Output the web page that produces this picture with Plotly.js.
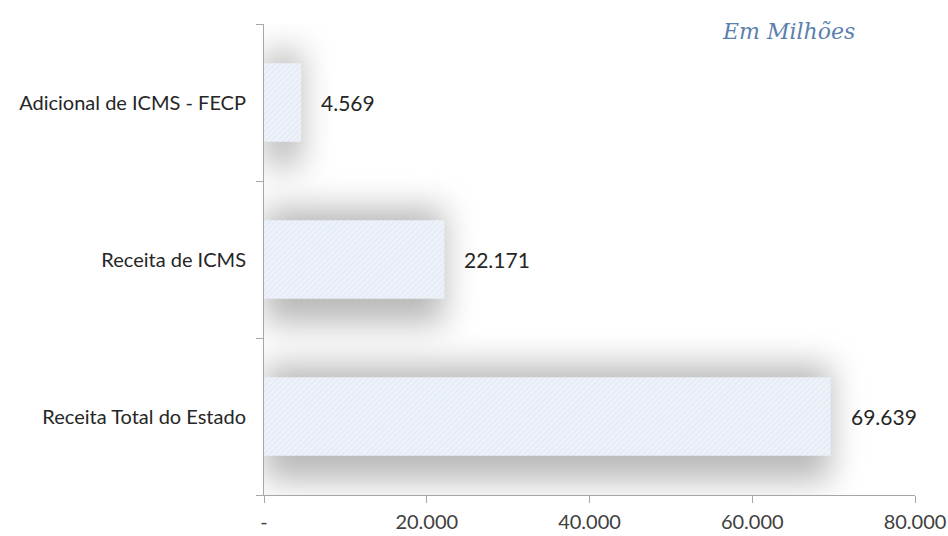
<!DOCTYPE html>
<html>
<head>
<meta charset="utf-8">
<script src="https://cdn.plot.ly/plotly-3.0.1.min.js"></script>
<style>html,body{margin:0;padding:0;background:#fff;}#chart{width:948px;height:536px;}</style>
</head>
<body>
<div id="chart"></div>
<script>
// Data (bottom to top)
const categories = ['Receita Total do Estado', 'Receita de ICMS', 'Adicional de ICMS - FECP'];
const values = [69639, 22171, 4569];
const valueLabels = ['69.639', '22.171', '4.569'];
const xTickVals = [0, 20000, 40000, 60000, 80000];
const xTickText = ['-', '20.000', '40.000', '60.000', '80.000'];
const unitNote = 'Em Milhões';

const fontFam = 'Lato, "Open Sans", sans-serif';

const shadow = {
  type: 'bar', orientation: 'h', x: values, y: categories,
  width: 0.74, offset: -0.41,
  marker: {color: '#808080', line: {width: 0}},
  opacity: 0.55, hoverinfo: 'skip', showlegend: false, name: 'shadow'
};
const bars = {
  type: 'bar', orientation: 'h', x: values, y: categories,
  width: 0.5,
  marker: {
    color: '#e9eff8',
    line: {width: 0},
    pattern: {shape: '/', fgcolor: '#d9e1ec', bgcolor: '#edf2fa', size: 4, solidity: 0.2}
  },
  hoverinfo: 'skip', showlegend: false, name: 'valores'
};

const annotations = categories.map((c, i) => ({
  x: values[i], y: c, xref: 'x', yref: 'y', text: valueLabels[i],
  showarrow: false, xanchor: 'left', yanchor: 'middle', xshift: 18,
  font: {family: fontFam, size: 21, color: '#262626'}
}));
annotations.push({
  xref: 'paper', yref: 'paper', x: 0.805, y: 0.985, text: unitNote,
  showarrow: false, xanchor: 'center', yanchor: 'middle',
  font: {family: '"DejaVu Serif", serif', size: 22, color: '#5b7fae', style: 'italic'}
});

const layout = {
  width: 948, height: 536,
  margin: {l: 264, r: 33, t: 24, b: 41},
  paper_bgcolor: '#ffffff', plot_bgcolor: 'rgba(0,0,0,0)',
  barmode: 'overlay',
  showlegend: false,
  xaxis: {
    range: [0, 80000], tickvals: xTickVals, ticktext: xTickText,
    showgrid: false, zeroline: false, showline: true, linecolor: '#a6a6a6', linewidth: 1,
    ticks: 'outside', ticklen: 7, tickcolor: '#a6a6a6', ticklabelstandoff: 2,
    tickfont: {family: fontFam, size: 20, color: '#404040'}, fixedrange: true
  },
  yaxis: {
    type: 'category', categoryorder: 'array', categoryarray: categories,
    range: [-0.5, 2.5], tickson: 'boundaries',
    showgrid: false, zeroline: false, showline: true, linecolor: '#a6a6a6', linewidth: 1,
    ticks: 'outside', ticklen: 7, tickcolor: '#a6a6a6', ticklabelstandoff: 13,
    tickfont: {family: fontFam, size: 20, color: '#262626'}, fixedrange: true
  },
  annotations: annotations
};

Plotly.newPlot('chart', [shadow, bars], layout, {displayModeBar: false, staticPlot: true}).then(gd => {
  const svg = gd.querySelector('svg.main-svg');
  const ns = 'http://www.w3.org/2000/svg';
  let defs = svg.querySelector('defs');
  const f = document.createElementNS(ns, 'filter');
  f.setAttribute('id', 'shadowBlur');
  f.setAttribute('x', '-50%'); f.setAttribute('y', '-100%');
  f.setAttribute('width', '200%'); f.setAttribute('height', '300%');
  const b = document.createElementNS(ns, 'feGaussianBlur');
  b.setAttribute('stdDeviation', '16');
  f.appendChild(b);
  defs.appendChild(f);
  const traces = gd.querySelectorAll('.barlayer .trace');
  if (traces.length) traces[0].setAttribute('filter', 'url(#shadowBlur)');
});
</script>
</body>
</html>
